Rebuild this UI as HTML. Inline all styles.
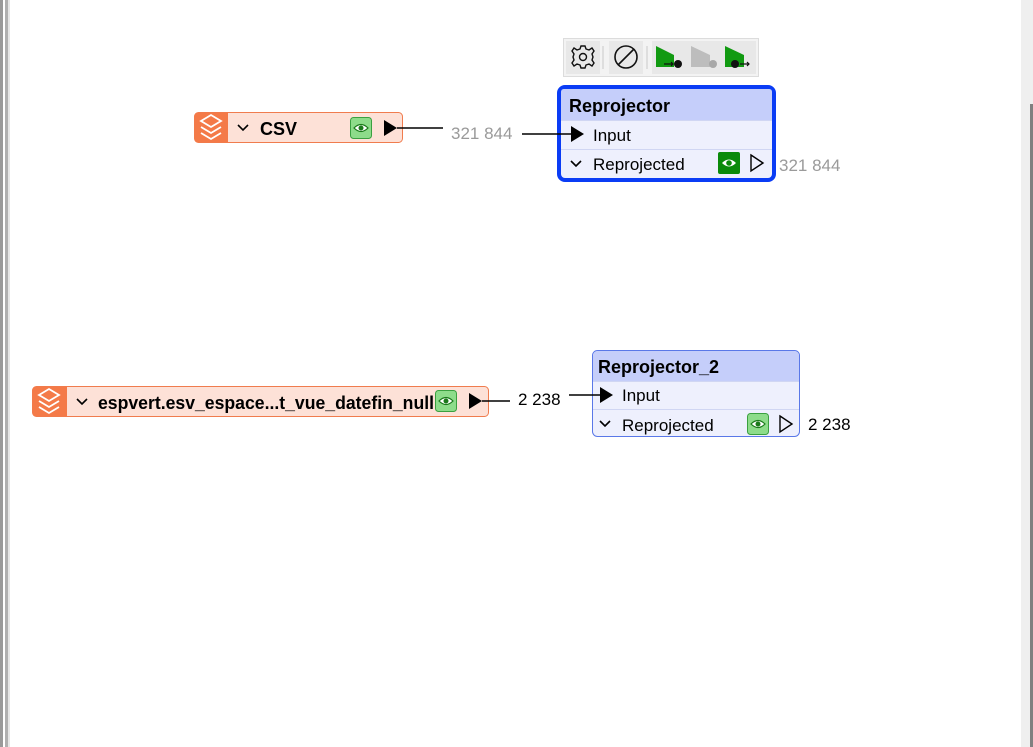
<!DOCTYPE html>
<html><head><meta charset="utf-8"><style>
html,body{margin:0;padding:0;background:#fff;width:1033px;height:747px;overflow:hidden}
svg{display:block}
text{font-family:"Liberation Sans",sans-serif}
</style></head><body>
<svg width="1033" height="747" viewBox="0 0 1033 747" xmlns="http://www.w3.org/2000/svg">
<defs>
<g id="layers">
<path d="M-10,-6 L0,-12 L10,-6 L0,0 Z" fill="none" stroke="#fff" stroke-width="1.8"/>
<path d="M-10,0 L0,6 L10,0" fill="none" stroke="#fff" stroke-width="1.8"/>
<path d="M-10,6 L0,12 L10,6" fill="none" stroke="#fff" stroke-width="1.8"/>
</g>
<g id="eyeL">
<rect x="-10.5" y="-10.5" width="21" height="21" rx="3" fill="#8ddc8a" stroke="#3aa040" stroke-width="1"/>
<path d="M-7,0 Q0,-7 7,0 Q0,7 -7,0 Z" fill="#fff" stroke="#1a7a1a" stroke-width="1.2"/>
<circle cx="0" cy="0" r="2.5" fill="#1a7a1a"/>
</g>
<g id="eyeD">
<rect x="-11" y="-11" width="22" height="22" rx="2" fill="#0a8a0a"/>
<path d="M-7,0 Q0,-7 7,0 Q0,7 -7,0 Z" fill="#fff"/>
<circle cx="0" cy="0" r="2.8" fill="#0a8a0a"/>
</g>
<path id="chev" d="M-5,-3 L0,2 L5,-3" fill="none" stroke="#000" stroke-width="1.6"/>
</defs>

<rect x="0" y="0" width="3" height="747" fill="#9a9a9a"/>
<rect x="5" y="0" width="3" height="747" fill="#b0b0b0"/>
<rect x="8" y="0" width="2" height="747" fill="#e6e6e6"/>
<rect x="1021" y="0" width="12" height="747" fill="#efefef"/>
<rect x="1030" y="104" width="3" height="643" fill="#808080"/>

<!-- toolbar -->
<rect x="563.5" y="38.5" width="195" height="38" fill="#f3f3f3" stroke="#dcdcdc"/>
<rect x="566" y="41" width="34" height="33" fill="#e8e8e8"/>
<rect x="609" y="41" width="34" height="33" fill="#e8e8e8"/>
<rect x="652" y="41" width="104" height="33" fill="#e8e8e8"/>
<line x1="603" y1="46" x2="603" y2="69" stroke="#c8c8c8"/>
<line x1="647" y1="46" x2="647" y2="69" stroke="#c8c8c8"/>
<g transform="translate(583,57)" fill="none" stroke="#111" stroke-width="1.4">
<path d="M-2,-11 L2,-11 L3,-8 L6,-7 L9,-9 L11,-6 L9,-3 L10,0 L9,3 L11,6 L9,9 L6,7 L3,8 L2,11 L-2,11 L-3,8 L-6,7 L-9,9 L-11,6 L-9,3 L-10,0 L-9,-3 L-11,-6 L-9,-9 L-6,-7 L-3,-8 Z"/>
<circle r="3.5"/>
</g>
<g transform="translate(626,57)" fill="none" stroke="#111" stroke-width="1.6">
<circle r="11"/><line x1="-7.5" y1="7.5" x2="7.5" y2="-7.5"/>
</g>
<path d="M656,46 L674,55 L674,67 L656,67 Z" fill="#119a11"/>
<circle cx="678" cy="64" r="4" fill="#111"/><path d="M664,64 L673,64 M671,62 L673,64 L671,66" stroke="#111" stroke-width="1.2" fill="none"/>
<path d="M691,46 L710,55 L710,67 L691,67 Z" fill="#bdbdbd"/>
<circle cx="713" cy="64" r="4" fill="#a8a8a8"/>
<path d="M725,46 L744,55 L744,67 L725,67 Z" fill="#119a11"/>
<circle cx="735" cy="64" r="4" fill="#111"/><path d="M740,64 L749,64 M747,62 L749,64 L747,66" stroke="#111" stroke-width="1.2" fill="none"/>

<!-- CSV node -->
<rect x="194.5" y="112.5" width="208" height="30" rx="4" fill="#fde1d7" stroke="#f07c4e"/>
<path d="M198.5,112.5 H228 V142.5 H198.5 Q194.5,142.5 194.5,138.5 V116.5 Q194.5,112.5 198.5,112.5 Z" fill="#f47a48"/>
<use href="#layers" x="211" y="127"/>
<use href="#chev" x="243" y="128"/>
<text x="260" y="135" font-size="18" font-weight="bold" fill="#000">CSV</text>
<use href="#eyeL" x="361" y="128"/>
<path d="M384,120 L397,128 L384,136 Z" fill="#000"/>
<line x1="397" y1="128" x2="443" y2="128" stroke="#000" stroke-width="1.5"/>
<text x="451" y="139" font-size="17" fill="#9a9a9a">321 844</text>

<!-- Reprojector selected -->
<rect x="559" y="87" width="215" height="93" rx="6" fill="#eef0fd" stroke="#0a3cf5" stroke-width="4"/>
<path d="M564,89 H769 Q772,89 772,92 V120 H561 V92 Q561,89 564,89 Z" fill="#c5cefa"/>
<line x1="561" y1="120.5" x2="772" y2="120.5" stroke="#d0d6f3"/>
<line x1="561" y1="149.5" x2="772" y2="149.5" stroke="#d0d6f3"/>
<text x="569" y="112" font-size="18" font-weight="bold" fill="#000">Reprojector</text>
<text x="593" y="141" font-size="17" fill="#000">Input</text>
<use href="#chev" x="576" y="164"/>
<text x="593" y="170" font-size="17" fill="#000">Reprojected</text>
<use href="#eyeD" x="729" y="163"/>
<path d="M751,155 L763,163 L751,171 Z" fill="none" stroke="#000" stroke-width="1.4"/>
<text x="779" y="171" font-size="17" fill="#9a9a9a">321 844</text>
<line x1="522" y1="134" x2="572" y2="134" stroke="#000" stroke-width="1.5"/>
<path d="M571,126 L584,134 L571,142 Z" fill="#000"/>

<!-- espvert node -->
<rect x="32.5" y="386.5" width="456" height="30" rx="4" fill="#fde1d7" stroke="#f07c4e"/>
<path d="M36.5,386.5 H67 V416.5 H36.5 Q32.5,416.5 32.5,412.5 V390.5 Q32.5,386.5 36.5,386.5 Z" fill="#f47a48"/>
<use href="#layers" x="49" y="401"/>
<use href="#chev" x="82" y="402"/>
<text x="98" y="409" font-size="18" font-weight="bold" fill="#000" textLength="336" lengthAdjust="spacingAndGlyphs">espvert.esv_espace...t_vue_datefin_null</text>
<use href="#eyeL" x="446" y="401"/>
<path d="M469,393 L482,401 L469,409 Z" fill="#000"/>
<line x1="482" y1="401" x2="510" y2="401" stroke="#000" stroke-width="1.5"/>
<text x="518" y="405" font-size="17" fill="#000">2 238</text>

<!-- Reprojector_2 -->
<rect x="592.5" y="350.5" width="207" height="86" rx="5" fill="#eef0fd" stroke="#5a78e8"/>
<path d="M598,351 H794 Q799,351 799,356 V381 H593 V356 Q593,351 598,351 Z" fill="#c5cefa"/>
<line x1="593" y1="381.5" x2="799" y2="381.5" stroke="#d0d6f3"/>
<line x1="593" y1="409.5" x2="799" y2="409.5" stroke="#d0d6f3"/>
<text x="598" y="373" font-size="18" font-weight="bold" fill="#000">Reprojector_2</text>
<text x="622" y="401" font-size="17" fill="#000">Input</text>
<use href="#chev" x="605" y="424"/>
<text x="622" y="431" font-size="17" fill="#000">Reprojected</text>
<use href="#eyeL" x="758" y="424"/>
<path d="M780,416 L792,424 L780,432 Z" fill="none" stroke="#000" stroke-width="1.4"/>
<text x="808" y="430" font-size="17" fill="#000">2 238</text>
<line x1="569" y1="395" x2="602" y2="395" stroke="#000" stroke-width="1.5"/>
<path d="M600,387 L613,395 L600,403 Z" fill="#000"/>
</svg>
</body></html>
